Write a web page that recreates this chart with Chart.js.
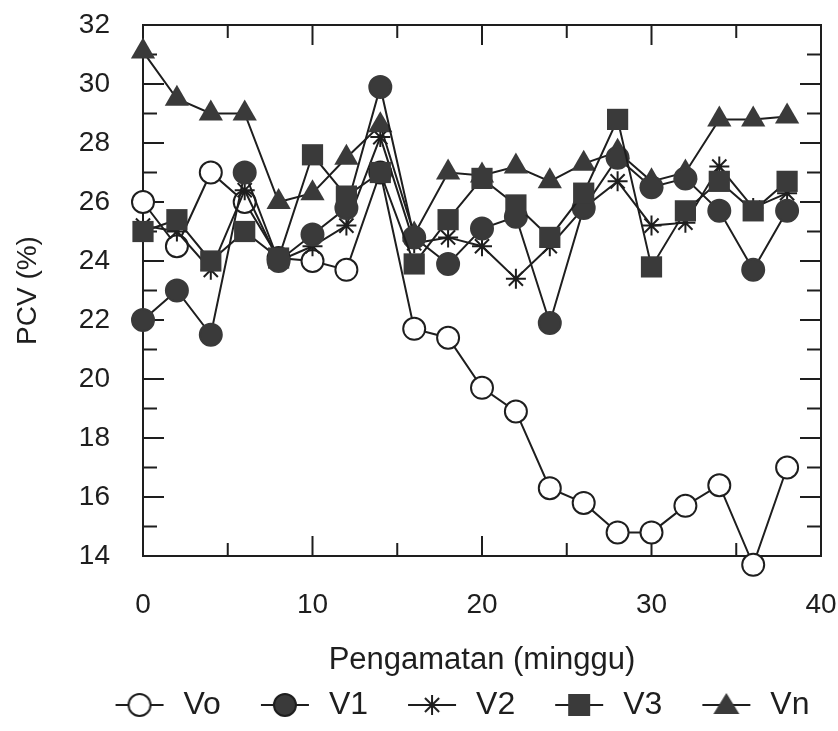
<!DOCTYPE html>
<html>
<head>
<meta charset="utf-8">
<script src="https://cdn.jsdelivr.net/npm/chart.js@4"></script>
<style>
  html, body { margin: 0; background: #fff; }
</style>
</head>
<body>
<canvas id="myChart" width="838" height="731"></canvas>
<script>
// weeks of observation
const weeks = [0, 2, 4, 6, 8, 10, 12, 14, 16, 18, 20, 22, 24, 26, 28, 30, 32, 34, 36, 38];

// PCV (%) per group
const vo = [26.0, 24.5, 27.0, 26.0, 24.1, 24.0, 23.7, 27.0, 21.7, 21.4, 19.7, 18.9, 16.3, 15.8, 14.8, 14.8, 15.7, 16.4, 13.7, 17.0];
const v1 = [22.0, 23.0, 21.5, 27.0, 24.0, 24.9, 25.8, 29.9, 24.8, 23.9, 25.1, 25.5, 21.9, 25.8, 27.5, 26.5, 26.8, 25.7, 23.7, 25.7];
const v2 = [25.2, 25.0, 23.7, 26.4, 24.0, 24.5, 25.2, 28.2, 24.6, 24.8, 24.5, 23.4, 24.5, 25.8, 26.7, 25.2, 25.3, 27.2, 25.8, 26.3];
const v3 = [25.0, 25.4, 24.0, 25.0, 24.1, 27.6, 26.2, 27.0, 23.9, 25.4, 26.8, 25.9, 24.8, 26.3, 28.8, 23.8, 25.7, 26.7, 25.7, 26.7];
const vn = [31.1, 29.5, 29.0, 29.0, 26.0, 26.3, 27.5, 28.6, 24.9, 27.0, 26.9, 27.2, 26.7, 27.3, 27.7, 26.7, 27.0, 28.8, 28.8, 28.9];

const labels = ["Vo", "V1", "V2", "V3", "Vn"];

const INK = "#1e1e1e";
const FILL = "#3a3a3a";
const FONT = "'Liberation Sans', Arial, sans-serif";

function toPoints(values) {
  return values.map((v, i) => ({ x: weeks[i], y: v }));
}

// legend icon: short line with the marker on it (left part of the canvas is spacing)
function legendIcon(kind) {
  const c = document.createElement("canvas");
  c.width = 82;
  c.height = 30;
  const g = c.getContext("2d");
  const cx = 54, cy = 15;
  g.strokeStyle = INK;
  g.lineWidth = 2;
  g.beginPath();
  g.moveTo(30, cy);
  g.lineTo(78, cy);
  g.stroke();
  g.fillStyle = FILL;
  g.beginPath();
  if (kind === "open" || kind === "dot") {
    g.arc(cx, cy, 11, 0, Math.PI * 2);
    g.fillStyle = kind === "open" ? "#fff" : FILL;
    g.fill();
    g.stroke();
  } else if (kind === "star") {
    for (let k = 0; k < 4; k++) {
      const a = k * Math.PI / 4;
      g.moveTo(cx - Math.cos(a) * 10, cy - Math.sin(a) * 10);
      g.lineTo(cx + Math.cos(a) * 10, cy + Math.sin(a) * 10);
    }
    g.stroke();
  } else if (kind === "rect") {
    g.rect(cx - 11, cy - 11, 22, 22);
    g.fill();
  } else if (kind === "tri") {
    g.moveTo(cx, cy - 12);
    g.lineTo(cx + 13, cy + 9);
    g.lineTo(cx - 13, cy + 9);
    g.closePath();
    g.fill();
  }
  return c;
}

const iconKinds = ["open", "dot", "star", "rect", "tri"];

// inward tick marks on all four sides of the frame
const innerTicks = {
  id: "innerTicks",
  beforeDatasetsDraw(chart) {
    const { ctx, chartArea: a, scales } = chart;
    const x = scales.x, y = scales.y;
    ctx.save();
    ctx.strokeStyle = INK;
    ctx.lineWidth = 2;
    ctx.beginPath();
    for (let v = 5; v < 40; v += 5) {
      const px = x.getPixelForValue(v);
      const len = v % 10 === 0 ? 20 : 13;
      ctx.moveTo(px, a.bottom);
      ctx.lineTo(px, a.bottom - len);
      ctx.moveTo(px, a.top);
      ctx.lineTo(px, a.top + len);
    }
    for (let v = 15; v < 32; v += 1) {
      const py = y.getPixelForValue(v);
      const len = v % 2 === 0 ? 21 : 14;
      ctx.moveTo(a.left, py);
      ctx.lineTo(a.left + len, py);
      ctx.moveTo(a.right, py);
      ctx.lineTo(a.right - len, py);
    }
    ctx.stroke();
    ctx.restore();
  },
};

// nudge the legend row to the right, like the original
const legendShift = {
  id: "legendShift",
  afterLayout(chart) {
    if (chart.legend) {
      chart.legend.left += 37;
      chart.legend.right += 37;
    }
  },
};

function makeDataset(label, values, style) {
  return Object.assign({
    label: label,
    data: toPoints(values),
    borderColor: INK,
    borderWidth: 2,
    tension: 0,
    fill: false,
    clip: false,
    pointBorderColor: INK,
    pointBorderWidth: 2,
  }, style);
}

const ctx = document.getElementById("myChart").getContext("2d");
const myChart = new Chart(ctx, {
  type: "line",
  data: {
    datasets: [
      makeDataset(labels[0], vo, { order: 4, pointStyle: "circle", pointRadius: 11, pointBackgroundColor: "#fff" }),
      makeDataset(labels[1], v1, { order: 1, pointStyle: "circle", pointRadius: 11, pointBackgroundColor: FILL, pointBorderColor: FILL }),
      makeDataset(labels[2], v2, { order: 3, pointStyle: "star", pointRadius: 10, pointBackgroundColor: INK }),
      makeDataset(labels[3], v3, { order: 0, pointStyle: "rect", pointRadius: 15, pointBackgroundColor: FILL, pointBorderColor: FILL, pointBorderWidth: 0 }),
      makeDataset(labels[4], vn, { order: 2, pointStyle: "triangle", pointRadius: 14, pointBackgroundColor: FILL, pointBorderColor: FILL, pointBorderWidth: 0 }),
    ],
  },
  options: {
    responsive: false,
    animation: false,
    layout: {
      padding: { top: 25, right: 17, left: 0, bottom: 0 },
    },
    scales: {
      x: {
        type: "linear",
        position: "bottom",
        min: 0,
        max: 40,
        afterFit: (s) => { s.height = 123; s.paddingRight = 0; s.paddingLeft = 0; },
        grid: { display: false, drawTicks: false },
        border: { display: true, color: INK, width: 2 },
        ticks: {
          stepSize: 10,
          padding: 32,
          color: INK,
          font: { family: FONT, size: 28 },
        },
        title: {
          display: true,
          text: "Pengamatan (minggu)",
          color: INK,
          font: { family: FONT, size: 31 },
          padding: { top: 0, bottom: 0 },
        },
      },
      x2: {
        type: "linear",
        position: "top",
        min: 0,
        max: 40,
        afterFit: (s) => { s.height = 0; s.paddingLeft = 0; s.paddingRight = 0; },
        grid: { display: false, drawTicks: false },
        border: { display: true, color: INK, width: 2 },
        ticks: { display: false },
      },
      y: {
        position: "left",
        min: 14,
        max: 32,
        afterFit: (s) => { s.width = 143; s.paddingTop = 0; s.paddingBottom = 0; },
        grid: { display: false, drawTicks: false },
        border: { display: true, color: INK, width: 2 },
        ticks: {
          stepSize: 2,
          padding: 33,
          color: INK,
          font: { family: FONT, size: 28 },
        },
        title: {
          display: true,
          text: "PCV (%)",
          color: INK,
          font: { family: FONT, size: 28 },
          padding: { top: 11, bottom: 0 },
        },
      },
      y2: {
        position: "right",
        min: 14,
        max: 32,
        afterFit: (s) => { s.width = 0; s.paddingTop = 0; s.paddingBottom = 0; },
        grid: { display: false, drawTicks: false },
        border: { display: true, color: INK, width: 2 },
        ticks: { display: false },
      },
    },
    plugins: {
      legend: {
        display: true,
        position: "bottom",
        labels: {
          usePointStyle: true,
          pointStyleWidth: 82,
          padding: 10,
          color: INK,
          font: { family: FONT, size: 32 },
          generateLabels: (chart) => chart.data.datasets.map((ds, i) => ({
            text: ds.label,
            pointStyle: legendIcon(iconKinds[i]),
            datasetIndex: i,
            hidden: false,
            lineWidth: 0,
            strokeStyle: "rgba(0,0,0,0)",
            fillStyle: "rgba(0,0,0,0)",
            fontColor: INK,
          })),
        },
      },
      tooltip: { enabled: false },
    },
  },
  plugins: [innerTicks, legendShift],
});
</script>
</body>
</html>
